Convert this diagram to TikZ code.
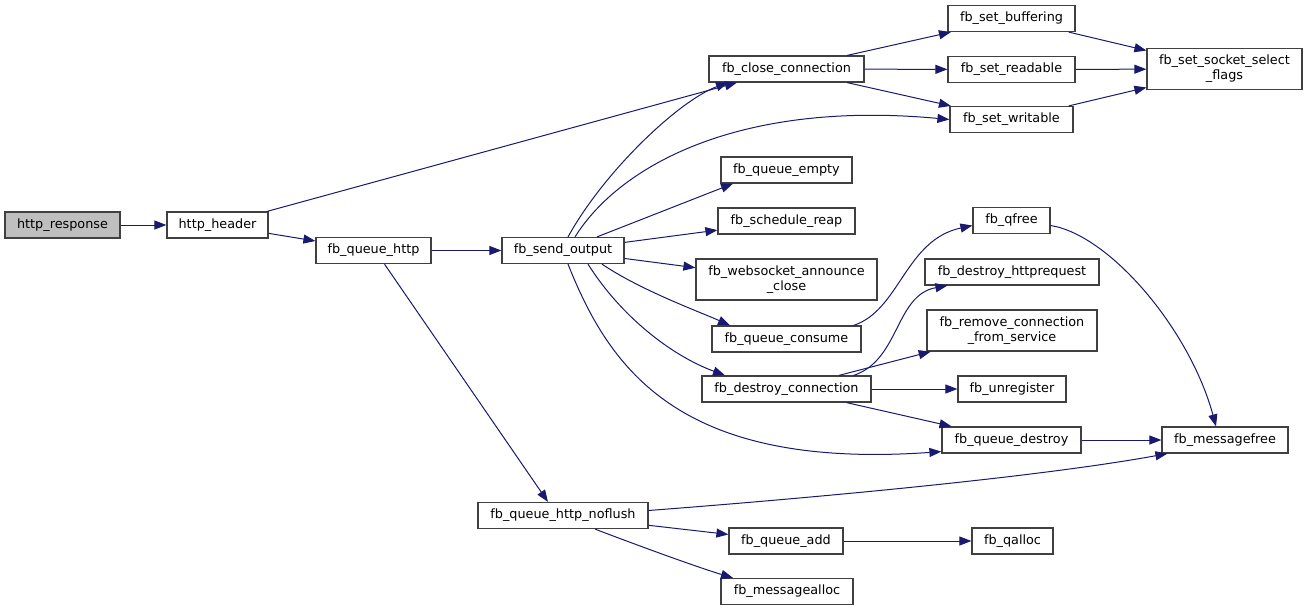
\documentclass[tikz,border=0pt]{standalone}
\usepackage{fontspec}
\setmainfont{DejaVu Sans}
\usetikzlibrary{arrows.meta}
\definecolor{edgeblue}{HTML}{191970}
\definecolor{boxline}{HTML}{404040}
\definecolor{rootgray}{HTML}{BFBFBF}
\tikzset{
  fnbox/.style={
    draw=boxline,
    line width=1.2pt,
    fill=white,
    inner sep=0pt,
    minimum height=26pt,
    align=center,
    font=\fontsize{12.8}{15}\selectfont
  },
  rootbox/.style={fnbox, fill=rootgray},
  twoline/.style={minimum height=41pt},
  call/.style={
    -{Triangle[length=12pt,width=9pt]},
    line width=1pt,
    draw=edgeblue
  }
}
\begin{document}
\begin{tikzpicture}[x=1pt,y=-1pt]
\useasboundingbox (0,0) rectangle (1309,611);
% functions
\node[rootbox, minimum width=115pt] (resp) at (62.5,225) {http\_response};
\node[fnbox, minimum width=101pt] (hdr) at (217.5,225) {http\_header};
\node[fnbox, minimum width=115pt] (qhttp) at (373.5,250.5) {fb\_queue\_http};
\node[fnbox, minimum width=122pt] (sendout) at (563,250.5) {fb\_send\_output};
\node[fnbox, minimum width=155pt] (closeconn) at (786.5,69) {fb\_close\_connection};
\node[fnbox, minimum width=127pt] (setbuf) at (1011.5,18.5) {fb\_set\_buffering};
\node[fnbox, minimum width=127pt] (setread) at (1011.5,69.5) {fb\_set\_readable};
\node[fnbox, minimum width=123pt] (setwrite) at (1011.5,119.5) {fb\_set\_writable};
\node[fnbox, twoline, minimum width=155pt] (sockflags) at (1224.5,69) {fb\_set\_socket\_select\\\_flags};
\node[fnbox, minimum width=131pt] (qempty) at (786.5,170) {fb\_queue\_empty};
\node[fnbox, minimum width=137pt] (reap) at (786.5,221) {fb\_schedule\_reap};
\node[fnbox, twoline, minimum width=181pt] (wsclose) at (786.5,279.5) {fb\_websocket\_announce\\\_close};
\node[fnbox, minimum width=149pt] (qconsume) at (786.5,339) {fb\_queue\_consume};
\node[fnbox, minimum width=169pt] (destroyconn) at (786.5,389) {fb\_destroy\_connection};
\node[fnbox, minimum width=77pt] (qfree) at (1011.5,220.5) {fb\_qfree};
\node[fnbox, minimum width=174pt] (destroyreq) at (1012,272) {fb\_destroy\_httprequest};
\node[fnbox, twoline, minimum width=170pt] (removeconn) at (1012,330.5) {fb\_remove\_connection\\\_from\_service};
\node[fnbox, minimum width=108pt] (unreg) at (1012,389) {fb\_unregister};
\node[fnbox, minimum width=139pt] (qdestroy) at (1011.5,440) {fb\_queue\_destroy};
\node[fnbox, minimum width=126pt] (msgfree) at (1225,440) {fb\_messagefree};
\node[fnbox, minimum width=170pt] (noflush) at (563,515.5) {fb\_queue\_http\_noflush};
\node[fnbox, minimum width=114pt] (qadd) at (786,541) {fb\_queue\_add};
\node[fnbox, minimum width=81pt] (qalloc) at (1012.5,541) {fb\_qalloc};
\node[fnbox, minimum width=132pt] (msgalloc) at (787,591.5) {fb\_messagealloc};
% calls
\draw[call] (resp) -- (hdr);
\draw[call] (hdr) -- (closeconn);
\draw[call] (hdr) -- (qhttp);
\draw[call] (qhttp) -- (sendout);
\draw[call] ([xshift=11pt]qhttp.south) -- ([xshift=-15pt]noflush.north);
\draw[call] ([xshift=5pt]sendout.north) .. controls (605,170) and (680,100) .. ([xshift=-58.5pt]closeconn.south);
\draw[call] ([xshift=12pt]sendout.north) .. controls (620,165) and (740,100) .. (setwrite.west);
\draw[call] ([xshift=34pt]sendout.north) -- ([xshift=-53.5pt]qempty.south);
\draw[call] (sendout) -- (reap);
\draw[call] (sendout) -- (wsclose);
\draw[call] ([xshift=39pt]sendout.south) .. controls (640,290) and (700,312) .. ([xshift=-56.5pt]qconsume.north);
\draw[call] ([xshift=25pt]sendout.south) .. controls (620,315) and (670,355) .. ([xshift=-61.5pt]destroyconn.north);
\draw[call] ([xshift=5pt]sendout.south) .. controls (610,370) and (680,470) .. ([yshift=2pt]qdestroy.south west);
\draw[call] (closeconn) -- (setbuf);
\draw[call] (closeconn) -- (setread);
\draw[call] (closeconn) -- (setwrite);
\draw[call] (setbuf) -- (sockflags);
\draw[call] (setread) -- (sockflags);
\draw[call] (setwrite) -- (sockflags);
\draw[call] ([xshift=-8pt]qconsume.north east) .. controls (900,310) and (905,240) .. ([yshift=-5pt]qfree.west);
\draw[call] ([xshift=-18pt]destroyconn.north east) .. controls (900,360) and (895,295) .. ([xshift=23pt]destroyreq.south west);
\draw[call] (destroyconn) -- (removeconn);
\draw[call] (destroyconn) -- (unreg);
\draw[call] (destroyconn) -- (qdestroy);
\draw[call] ([yshift=-5pt]qfree.east) .. controls (1110,235) and (1190,330) .. ([xshift=-9pt]msgfree.north);
\draw[call] (qdestroy) -- (msgfree);
\draw[call] ([yshift=5pt]noflush.east) .. controls (850,495) and (1050,475) .. ([xshift=6pt]msgfree.south west);
\draw[call] (noflush) -- (qadd);
\draw[call] ([xshift=32pt]noflush.south) .. controls (650,550) and (700,568) .. ([xshift=-54pt]msgalloc.north);
\draw[call] (qadd) -- (qalloc);
\end{tikzpicture}
\end{document}
